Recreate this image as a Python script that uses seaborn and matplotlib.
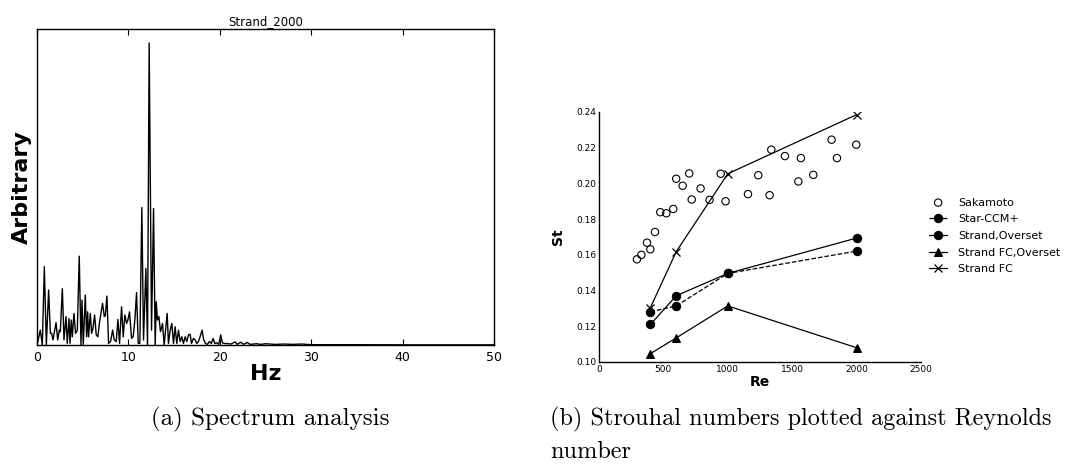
import matplotlib
matplotlib.use("Agg")
import matplotlib.pyplot as plt
import seaborn as sns
import pandas as pd

# ---- (a) spectrum of the Strand run at Re = 2000 ----
spec_hz = [0.00, 0.36, 0.58, 0.80, 1.02, 1.27, 1.46, 1.60, 1.75, 2.08, 2.26, 2.44, 2.55,
           2.77, 2.95, 3.17, 3.31, 3.50, 3.61, 3.75, 3.86, 4.04, 4.22, 4.41, 4.62, 4.81,
           4.92, 5.06, 5.28, 5.43, 5.54, 5.64, 5.83, 5.97, 6.12, 6.30, 6.48, 6.66, 6.85,
           6.99, 7.17, 7.36, 7.47, 7.65, 7.83, 8.05, 8.27, 8.45, 8.67, 8.85, 9.03, 9.25,
           9.43, 9.61, 9.80, 9.94, 10.12, 10.34, 10.52, 10.71, 10.89, 11.07, 11.25, 11.47,
           11.65, 11.91, 12.09, 12.27, 12.53, 12.75, 12.93, 13.04, 13.18, 13.33, 13.51,
           13.73, 13.91, 14.24, 14.38, 14.57, 14.75, 14.93, 15.11, 15.29, 15.48, 15.66,
           15.84, 16.02, 16.21, 16.39, 16.57, 16.75, 16.90, 17.12, 17.30, 17.48, 17.66,
           17.84, 18.06, 18.24, 18.43, 18.65, 18.86, 19.08, 19.26, 19.45, 19.66, 19.88,
           20.10, 20.28, 20.47, 21.00, 21.20, 21.67, 21.90, 22.29, 22.60, 23.00, 23.30,
           24.00, 24.50, 25.00, 26.00, 27.00, 28.00, 29.00, 30.00, 32.00, 35.00, 40.00,
           45.00, 50.00]
spec_amp = [0.000, 0.047, 0.000, 0.248, 0.000, 0.174, 0.037, 0.037, 0.016, 0.071, 0.016,
            0.047, 0.042, 0.178, 0.016, 0.090, 0.005, 0.084, 0.005, 0.079, 0.026, 0.100,
            0.037, 0.047, 0.281, 0.000, 0.142, 0.000, 0.158, 0.026, 0.105, 0.026, 0.100,
            0.037, 0.053, 0.095, 0.032, 0.026, 0.074, 0.100, 0.132, 0.090, 0.092, 0.155,
            0.005, 0.011, 0.047, 0.016, 0.011, 0.081, 0.005, 0.121, 0.026, 0.095, 0.068,
            0.079, 0.105, 0.021, 0.026, 0.081, 0.166, 0.005, 0.005, 0.435, 0.016, 0.242,
            0.000, 0.956, 0.047, 0.432, 0.000, 0.137, 0.079, 0.090, 0.042, 0.068, 0.000,
            0.100, 0.005, 0.047, 0.068, 0.005, 0.058, 0.005, 0.047, 0.011, 0.026, 0.005,
            0.026, 0.011, 0.032, 0.034, 0.005, 0.021, 0.016, 0.005, 0.011, 0.026, 0.047,
            0.016, 0.005, 0.002, 0.011, 0.005, 0.021, 0.005, 0.007, 0.002, 0.032, 0.007,
            0.005, 0.004, 0.003, 0.010, 0.002, 0.009, 0.002, 0.008, 0.002, 0.004, 0.002,
            0.004, 0.002, 0.003, 0.002, 0.003, 0.001, 0.001, 0.001, 0.0005, 0.0005, 0.0005]

# ---- (b) Strouhal number against Reynolds number ----
saka_re = [295, 329, 373, 399, 435, 476, 523, 577, 600, 650, 701, 720, 789, 859, 945,
           983, 1157, 1237, 1325, 1338, 1444, 1548, 1568, 1664, 1806, 1848, 1998]
saka_st = [0.1575, 0.1600, 0.1668, 0.1631, 0.1728, 0.1839, 0.1833, 0.1857, 0.2026,
           0.1987, 0.2056, 0.1910, 0.1972, 0.1908, 0.2054, 0.1900, 0.1940, 0.2046,
           0.1934, 0.2189, 0.2153, 0.2011, 0.2142, 0.2048, 0.2245, 0.2142, 0.2217]

sim_re = [400, 600, 1000, 2000]
star_ccm_st = [0.1281, 0.1314, 0.1496, 0.1621]
strand_overset_st = [0.1210, 0.1371, 0.1496, 0.1694]
strand_fc_overset_st = [0.1047, 0.1135, 0.1314, 0.1080]
strand_fc_st = [0.1305, 0.1618, 0.2054, 0.2385]

series_labels = ["Sakamoto", "Star-CCM+", "Strand,Overset", "Strand FC,Overset", "Strand FC"]
x_ticks = [0, 500, 1000, 1500, 2000, 2500]
y_ticks = [0.10, 0.12, 0.14, 0.16, 0.18, 0.20, 0.22, 0.24]

sns.set_style("white")
plt.rcParams["font.family"] = ["DejaVu Sans"]
plt.rcParams.update({"text.color": "black", "axes.labelcolor": "black",
                     "xtick.color": "black", "ytick.color": "black"})

fig = plt.figure(figsize=(10.73, 4.68), dpi=100)

# spectrum panel
ax1 = fig.add_axes([0.0345, 0.2628, 0.4259, 0.6752])
spec = pd.DataFrame({"Hz": spec_hz, "amp": spec_amp})
sns.lineplot(data=spec, x="Hz", y="amp", ax=ax1, color="black", linewidth=1.0,
             sort=False, estimator=None)
ax1.set_xlim(0, 50)
ax1.set_ylim(0, 1.0)
ax1.set_xticks([0, 10, 20, 30, 40, 50])
ax1.set_yticks([])
ax1.tick_params(axis="x", direction="in", top=True, bottom=True, length=4,
                width=0.8, labelsize=9, pad=4)
for s in ax1.spines.values():
    s.set_visible(True)
    s.set_color("black")
    s.set_linewidth(1.0)
ax1.set_title("Strand_2000", fontsize=8.5, pad=3)
ax1.set_xlabel("Hz", fontsize=16, fontweight="bold", labelpad=0)
ax1.set_ylabel("Arbitrary", fontsize=16, fontweight="bold", labelpad=4)

# Strouhal panel
ax2 = fig.add_axes([0.5582, 0.2265, 0.3001, 0.5342])
sns.scatterplot(x=saka_re, y=saka_st, ax=ax2, marker="o", s=28,
                facecolor="none", edgecolor="black", linewidth=0.8,
                legend=False, zorder=3)
line_kw = dict(ax=ax2, color="black", linewidth=0.9, markersize=6,
               markeredgecolor="black", legend=False)
sns.lineplot(x=sim_re, y=star_ccm_st, linestyle="--", marker="o", **line_kw)
sns.lineplot(x=sim_re, y=strand_overset_st, linestyle="-", marker="o", **line_kw)
sns.lineplot(x=sim_re, y=strand_fc_overset_st, linestyle="-", marker="^", **line_kw)
sns.lineplot(x=sim_re, y=strand_fc_st, linestyle="-", marker="x",
             markeredgewidth=0.9, **line_kw)
ax2.set_xlim(0, 2500)
ax2.set_ylim(0.10, 0.24)
ax2.set_xticks(x_ticks)
ax2.set_yticks(y_ticks)
ax2.set_yticklabels([f"{v:.2f}" for v in y_ticks])
ax2.tick_params(direction="in", length=4, width=0.8, labelsize=6.5, pad=2)
sns.despine(ax=ax2)
for side in ("left", "bottom"):
    ax2.spines[side].set_color("black")
    ax2.spines[side].set_linewidth(1.0)
ax2.set_xlabel("Re", fontsize=10, fontweight="bold", labelpad=1)
ax2.set_ylabel("St", fontsize=10, fontweight="bold", labelpad=8)

handles = [ax2.collections[0]] + list(ax2.lines[:4])
ax2.legend(handles, series_labels, loc="center left",
           bbox_to_anchor=(0.866, 0.496), bbox_transform=fig.transFigure,
           frameon=False, fontsize=8, handlelength=1.6, handletextpad=1.0,
           labelspacing=0.6, borderaxespad=0, borderpad=0)

# sub-figure captions
fig.text(0.1405, 0.103, "(a) Spectrum analysis", fontfamily="cmr10", fontsize=18,
         va="center", ha="left")
fig.text(0.5126, 0.103, "(b) Strouhal numbers plotted against Reynolds",
         fontfamily="cmr10", fontsize=17.5, va="center", ha="left")
fig.text(0.5126, 0.034, "number", fontfamily="cmr10", fontsize=17.5,
         va="center", ha="left")

fig.savefig("out.png", dpi=100)
